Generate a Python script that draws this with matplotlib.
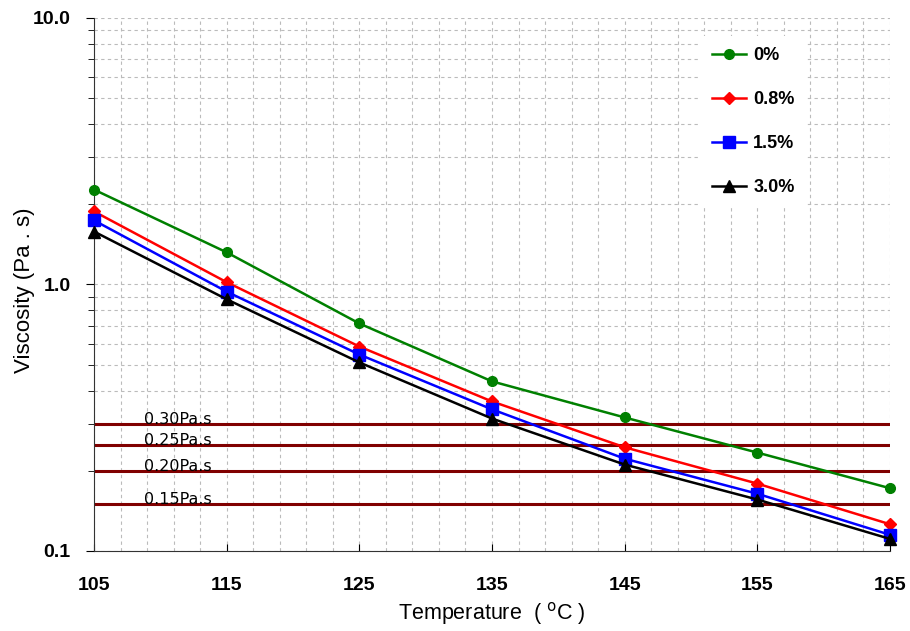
import matplotlib
matplotlib.use('Agg')
import matplotlib.pyplot as plt
from matplotlib.ticker import FixedLocator, LogLocator, NullFormatter, FixedFormatter

plt.rcParams['font.family'] = ['Liberation Sans', 'DejaVu Sans']

# Data
temperature = [105, 115, 125, 135, 145, 155, 165]
visc_0 = [2.27, 1.32, 0.714, 0.433, 0.317, 0.234, 0.172]
visc_08 = [1.88, 1.02, 0.585, 0.364, 0.245, 0.179, 0.126]
visc_15 = [1.74, 0.94, 0.546, 0.340, 0.222, 0.164, 0.115]
visc_30 = [1.58, 0.88, 0.510, 0.314, 0.211, 0.156, 0.111]
labels = ['0%', '0.8%', '1.5%', '3.0%']

ref_levels = [0.30, 0.25, 0.20, 0.15]
ref_labels = ['0.30Pa.s', '0.25Pa.s', '0.20Pa.s', '0.15Pa.s']

series = [visc_0, visc_08, visc_15, visc_30]
colors = ['green', 'red', 'blue', 'black']
markers = ['o', 'D', 's', '^']
msizes = [7, 6, 8, 8]

fig = plt.figure(figsize=(9.1, 6.31), dpi=100)
ax = fig.add_axes([0.1033, 0.1268, 0.8747, 0.8447])

# reference lines
for lev, lab in zip(ref_levels, ref_labels):
    ax.axhline(lev, color='#800000', lw=2.2, zorder=2)
    ax.text(108.8, lev, lab, fontsize=11.5, family='DejaVu Sans',
            va='baseline', ha='left', zorder=2)

for vals, c, m, ms, lab in zip(series, colors, markers, msizes, labels):
    ax.plot(temperature, vals, color=c, marker=m, markersize=ms, lw=1.8,
            label=lab, zorder=3, clip_on=False)

ax.set_yscale('log')
ax.set_xlim(105, 165)
ax.set_ylim(0.1, 10)

# ticks
ax.xaxis.set_major_locator(FixedLocator([105, 115, 125, 135, 145, 155, 165]))
ax.xaxis.set_minor_locator(FixedLocator(list(range(107, 166, 2))))
ax.yaxis.set_major_locator(FixedLocator([0.1, 1, 10]))
ax.yaxis.set_major_formatter(FixedFormatter(['0.1', '1.0', '10.0']))
ax.yaxis.set_minor_locator(LogLocator(base=10, subs=range(2, 10)))
ax.yaxis.set_minor_formatter(NullFormatter())

ax.tick_params(axis='x', which='major', direction='in', length=5, pad=19,
               labelsize=14)
ax.tick_params(axis='x', which='minor', length=0)
ax.tick_params(axis='y', which='major', direction='out', length=6, pad=11,
               labelsize=14)
ax.tick_params(axis='y', which='minor', direction='out', length=4)
for lab in ax.get_xticklabels() + ax.get_yticklabels():
    lab.set_fontweight('bold')

ax.grid(True, which='both', color='#bbbbbb', ls=(0, (3, 3)), lw=0.8)
ax.set_axisbelow(True)

ax.spines['top'].set_visible(False)
ax.spines['right'].set_visible(False)
ax.spines['left'].set_color('#333333')
ax.spines['bottom'].set_color('#333333')

ax.set_xlabel('Temperature  ( $^{\\mathrm{o}}$C )', fontsize=15.5, labelpad=4)
ax.set_ylabel('Viscosity (Pa . s)', fontsize=16)
ax.yaxis.set_label_coords(-0.074, 0.49)

leg = ax.legend(loc='upper right', bbox_to_anchor=(0.905, 0.983), frameon=True,
                fancybox=False, edgecolor='none', framealpha=1,
                labelspacing=1.5, handlelength=1.9, handletextpad=0.4,
                borderpad=0.6, prop={'weight': 'bold', 'size': 13})

fig.savefig('out.png', dpi=100)
